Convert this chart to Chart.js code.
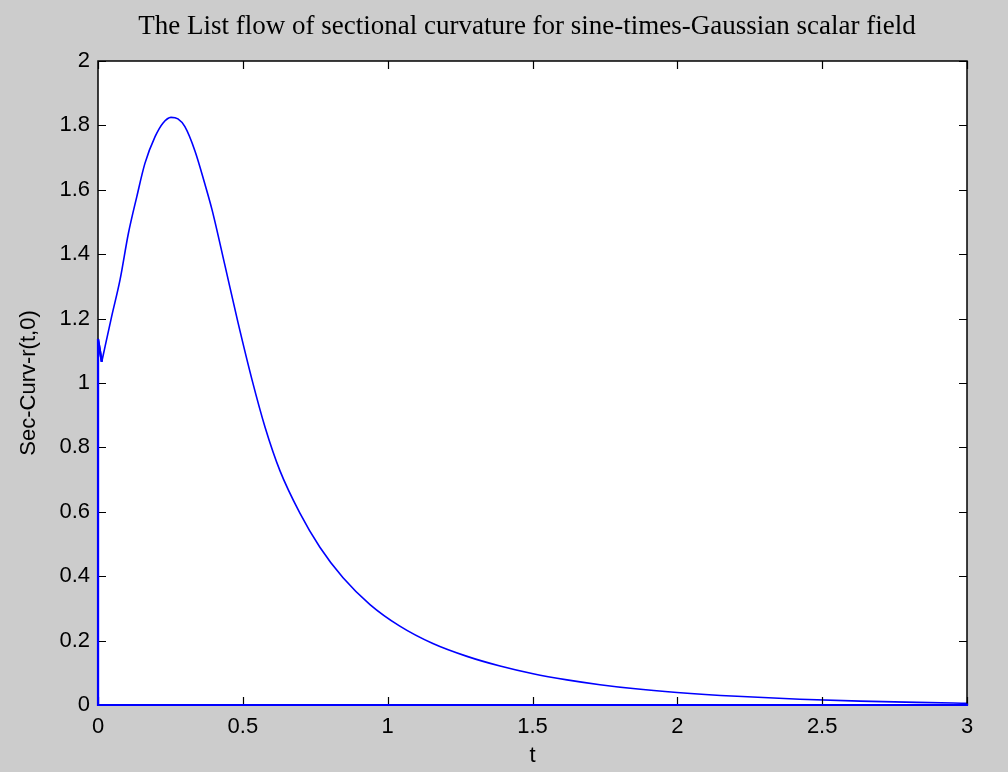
<!DOCTYPE html>
<html>
<head>
<meta charset="utf-8">
<script src="https://cdn.jsdelivr.net/npm/chart.js@4.4.0/dist/chart.umd.min.js"></script>
<style>
  html, body { margin: 0; padding: 0; background: #cccccc; }
  #wrap { width: 1008px; height: 772px; }
</style>
</head>
<body>
<div id="wrap"><canvas id="curv-plot" width="1008" height="772"></canvas></div>
<script>
// sectional curvature along t (smooth part, from the dip near t=0 out to t=3)
const tValues = [
  0.013, 0.047, 0.076, 0.105, 0.134, 0.162, 0.197, 0.224, 0.252, 0.276,
  0.300, 0.335, 0.369, 0.394, 0.438, 0.483, 0.532, 0.577, 0.628, 0.697, 0.766,
  0.846, 0.939, 1.042, 1.156, 1.274, 1.388, 1.502, 1.619, 1.733, 1.847, 1.999,
  2.206, 2.423, 2.631, 2.952, 3
];
const curvValues = [
  1.066, 1.206, 1.320, 1.465, 1.579, 1.682, 1.765, 1.807, 1.825, 1.820,
  1.796, 1.720, 1.618, 1.537, 1.366, 1.189, 1.009, 0.862, 0.728, 0.596, 0.490,
  0.395, 0.312, 0.245, 0.191, 0.151, 0.121, 0.097, 0.078, 0.063, 0.051, 0.039,
  0.027, 0.018, 0.012, 0.006, 0.005
];

// straight pieces that close the outline: up the t=0 edge, along zero, down at t=3
const edgeT = [0.013, 0, 0, 3, 3];
const edgeValues = [1.066, 1.137, 0, 0, 0.005];

const xTicks = [0, 0.5, 1, 1.5, 2, 2.5, 3];
const yTicks = [0, 0.2, 0.4, 0.6, 0.8, 1, 1.2, 1.4, 1.6, 1.8, 2];

const titleText = 'The List flow of sectional curvature for sine-times-Gaussian scalar field';
const xLabel = 't';
const yLabel = 'Sec-Curv-r(t,0)';

const FIG_BG = '#cccccc';
const LINE_BLUE = '#0000ff';
const TICK_LEN = 8;
const sansFont = "'Liberation Sans', Arial, sans-serif";

const fmtTick = v => String(Number(v.toFixed(1)));

// figure background, white axes box, black frame with inward ticks, title and labels
const matlabFrame = {
  id: 'matlabFrame',
  beforeDraw(chart) {
    const { ctx, chartArea: a } = chart;
    ctx.save();
    ctx.fillStyle = FIG_BG;
    ctx.fillRect(0, 0, chart.width, chart.height);
    ctx.fillStyle = '#ffffff';
    ctx.fillRect(a.left, a.top, a.right - a.left, a.bottom - a.top);
    ctx.restore();
  },
  afterDraw(chart) {
    const { ctx, chartArea: a, scales } = chart;
    ctx.save();
    ctx.strokeStyle = '#000000';
    ctx.lineWidth = 1.5;
    ctx.strokeRect(a.left, a.top, a.right - a.left, a.bottom - a.top);

    ctx.lineWidth = 1.2;
    ctx.beginPath();
    xTicks.forEach(v => {
      const px = Math.round(scales.x.getPixelForValue(v)) + 0.5;
      ctx.moveTo(px, a.bottom); ctx.lineTo(px, a.bottom - TICK_LEN);
      ctx.moveTo(px, a.top); ctx.lineTo(px, a.top + TICK_LEN);
    });
    yTicks.forEach(v => {
      const py = Math.round(scales.y.getPixelForValue(v)) + 0.5;
      ctx.moveTo(a.left, py); ctx.lineTo(a.left + TICK_LEN, py);
      ctx.moveTo(a.right, py); ctx.lineTo(a.right - TICK_LEN, py);
    });
    ctx.stroke();

    // the zero line and t=0 edge sit on the frame, so put them back on top
    chart.getDatasetMeta(1).dataset.draw(ctx, a);

    ctx.fillStyle = '#000000';
    ctx.textAlign = 'center';
    ctx.textBaseline = 'middle';
    ctx.font = "27px 'Liberation Serif', 'Times New Roman', serif";
    ctx.fillText(titleText, 527, 27);

    ctx.font = '22px ' + sansFont;
    ctx.fillText(xLabel, (a.left + a.right) / 2, 756);

    ctx.translate(29, (a.top + a.bottom) / 2);
    ctx.rotate(-Math.PI / 2);
    ctx.fillText(yLabel, 0, 0);
    ctx.restore();
  }
};

const curvePoints = tValues.map((t, i) => ({ x: t, y: curvValues[i] }));
const edgePoints = edgeT.map((t, i) => ({ x: t, y: edgeValues[i] }));

new Chart(document.getElementById('curv-plot'), {
  type: 'scatter',
  data: {
    datasets: [{
      data: curvePoints,
      showLine: true,
      borderColor: LINE_BLUE,
      borderWidth: 1.6,
      pointRadius: 0,
      cubicInterpolationMode: 'monotone',
      fill: false
    }, {
      data: edgePoints,
      showLine: true,
      borderColor: LINE_BLUE,
      borderWidth: 2.2,
      pointRadius: 0,
      tension: 0,
      fill: false
    }]
  },
  options: {
    responsive: false,
    animation: false,
    layout: { padding: { top: 61, right: 41, left: 0, bottom: 0 } },
    plugins: {
      legend: { display: false },
      title: { display: false },
      tooltip: { enabled: false }
    },
    scales: {
      x: {
        type: 'linear',
        min: 0, max: 3,
        grid: { display: false, drawTicks: false },
        border: { display: false },
        afterBuildTicks: s => { s.ticks = xTicks.map(v => ({ value: v })); },
        afterFit: s => { s.height = 67; },
        ticks: {
          color: '#000000',
          padding: 9,
          maxRotation: 0,
          callback: fmtTick,
          font: { family: sansFont, size: 22 }
        }
      },
      y: {
        type: 'linear',
        min: 0, max: 2,
        grid: { display: false, drawTicks: false },
        border: { display: false },
        afterBuildTicks: s => { s.ticks = yTicks.map(v => ({ value: v })); },
        afterFit: s => { s.width = 98; },
        ticks: {
          color: '#000000',
          padding: 8,
          callback: fmtTick,
          font: { family: sansFont, size: 22 }
        }
      }
    }
  },
  plugins: [matlabFrame]
});
</script>
</body>
</html>
